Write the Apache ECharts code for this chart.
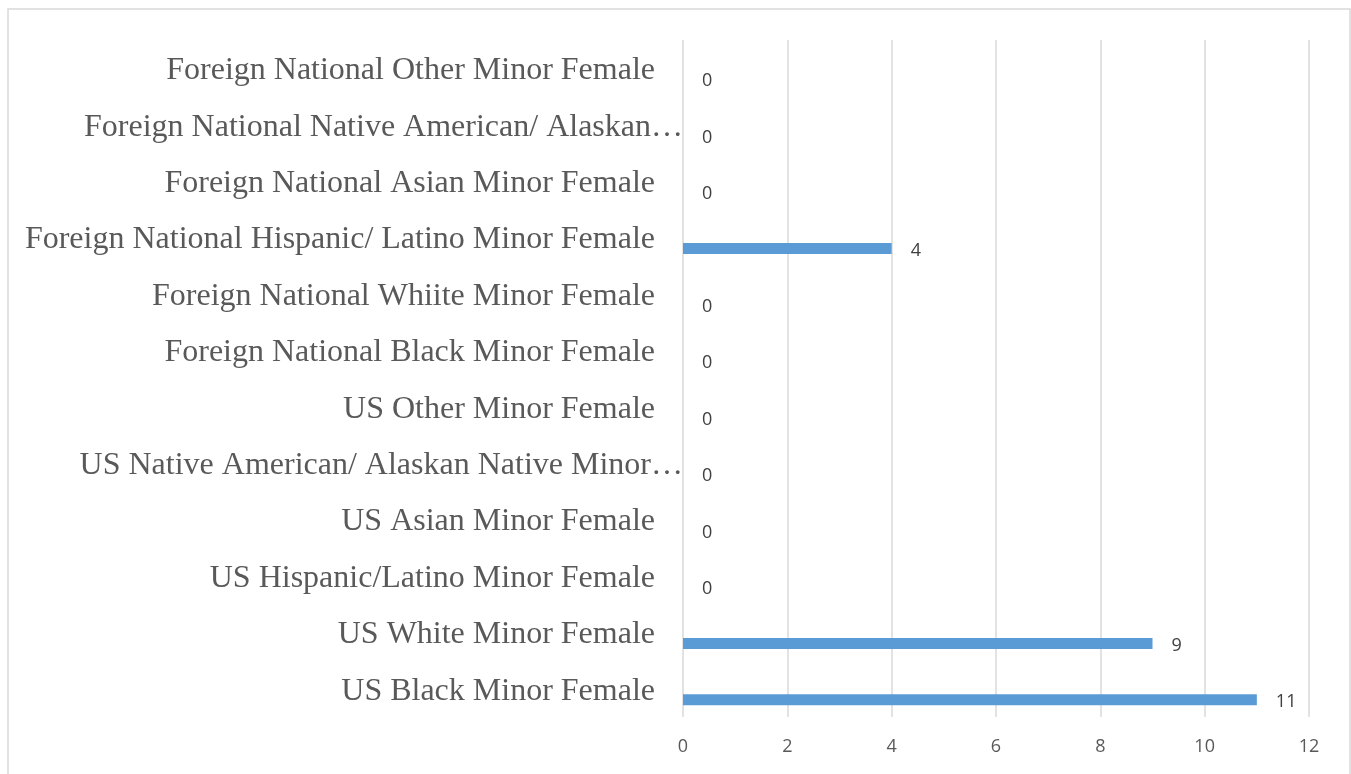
<!DOCTYPE html>
<html>
<head>
<meta charset="utf-8">
<script src="https://cdn.jsdelivr.net/npm/echarts@6/dist/echarts.min.js"></script>
<style>
html, body { margin: 0; padding: 0; background: #fff; }
#chart { width: 1351px; height: 774px; }
</style>
</head>
<body>
<div id="chart"></div>
<script>
// categories bottom to top, as shown in the picture
const categories = [
    'US Black Minor Female',
    'US White Minor Female',
    'US Hispanic/Latino Minor Female',
    'US Asian Minor Female',
    'US Native American/ Alaskan Native Minor…',
    'US Other Minor Female',
    'Foreign National Black Minor Female',
    'Foreign National Whiite Minor Female',
    'Foreign National Hispanic/ Latino Minor Female',
    'Foreign National Asian Minor Female',
    'Foreign National Native American/ Alaskan…',
    'Foreign National Other Minor Female'
]
const values = [11, 9, 0, 0, 0, 0, 0, 0, 4, 0, 0, 0]
const xTicks = [0, 2, 4, 6, 8, 10, 12]

const myChart = echarts.init(document.getElementById('chart'))

const option = {
    animation: false,
    graphic: [{
        type: 'rect',
        shape: { x: 8, y: 9, width: 1342, height: 800 },
        style: { fill: 'none', stroke: '#d9d9d9', lineWidth: 1.5 },
        silent: true
    }],
    grid: {
        left: 683,
        right: 42,
        top: 40,
        bottom: 57,
        containLabel: false,
        outerBoundsMode: 'none'
    },
    xAxis: {
        type: 'value',
        min: xTicks[0],
        max: xTicks[xTicks.length - 1],
        interval: 2,
        axisLine: { show: false },
        axisTick: { show: false },
        axisLabel: {
            margin: 21,
            color: '#595959',
            fontFamily: 'Open Sans',
            fontSize: 18
        },
        splitLine: { lineStyle: { color: '#d9d9d9', width: 1.5 } }
    },
    yAxis: {
        type: 'category',
        data: categories,
        axisLine: { show: false },
        axisTick: { show: false },
        axisLabel: {
            margin: 0,
            formatter (name) {
                // excel lets truncated names run up to the axis
                return name.endsWith('…') ? '{t|' + name + '}' : '{t|' + name + '}{gap|}'
            },
            rich: {
                t: {
                    color: '#595959',
                    fontFamily: 'Liberation Serif',
                    fontSize: 32,
                    padding: [5, 0, 0, 0]
                },
                gap: { width: 28 }
            }
        }
    },
    series: [
        {
            // empty series only to push the real bars below the band centre
            name: 'spacer',
            type: 'bar',
            data: categories.map(() => '-'),
            barWidth: 11,
            barGap: '100%',
            silent: true
        },
        {
            name: 'count',
            type: 'bar',
            data: values,
            barWidth: 11,
            barGap: '100%',
            itemStyle: { color: '#5b9bd5' },
            label: {
                show: true,
                position: 'right',
                distance: 19,
                offset: [0, 2],
                color: '#404040',
                fontFamily: 'Open Sans',
                fontSize: 18
            }
        }
    ]
}

myChart.setOption(option)
</script>
</body>
</html>
